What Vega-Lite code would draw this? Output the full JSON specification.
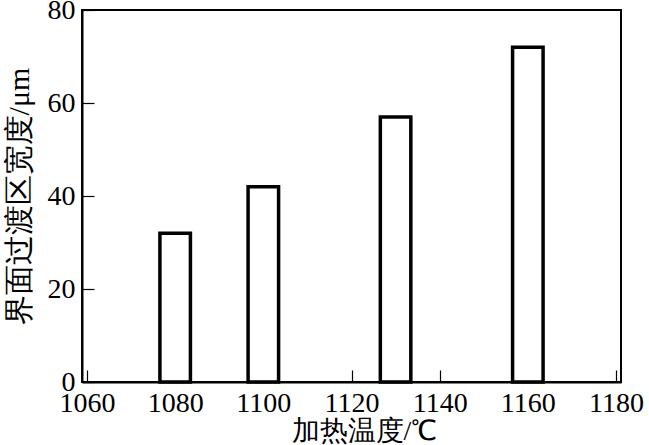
{
  "$schema": "https://vega.github.io/schema/vega-lite/v6.json",
  "autosize": "none",
  "width": 539,
  "height": 372,
  "padding": {"left": 82, "top": 10, "right": 28, "bottom": 63},
  "background": "white",
  "data": {"values": [
    {"temp": 1080, "width": 32},
    {"temp": 1100, "width": 42},
    {"temp": 1130, "width": 57},
    {"temp": 1160, "width": 72}
  ]},
  "mark": {"type": "bar", "size": 30.5, "fill": "white", "stroke": "black", "strokeWidth": 3.5},
  "encoding": {
    "x": {"field": "temp", "type": "quantitative",
      "scale": {"domain": [1060, 1180], "nice": false, "zero": false},
      "axis": {"values": [1060, 1080, 1100, 1120, 1140, 1160, 1180], "format": "d", "title": "加热温度/℃", "grid": false,
        "tickSize": -12, "tickColor": "black", "tickWidth": 1.2,
        "domainColor": "black", "domainWidth": 2,
        "labelFont": "Liberation Serif", "labelFontSize": 28, "labelColor": "black", "labelPadding": 19,
        "labelFlush": false,
        "titleFont": "Liberation Serif", "titleFontSize": 28, "titleFontWeight": "normal", "titleColor": "black", "titlePadding": 0, "titleX": 282}},
    "y": {"field": "width", "type": "quantitative",
      "scale": {"domain": [0, 80], "nice": false},
      "axis": {"values": [0, 20, 40, 60, 80], "format": "d", "title": "界面过渡区宽度/μm", "grid": false,
        "tickSize": -12, "tickColor": "black", "tickWidth": 1.2,
        "domainColor": "black", "domainWidth": 2,
        "labelFont": "Liberation Serif", "labelFontSize": 28, "labelColor": "black", "labelPadding": 19,
        "labelFlush": false,
        "titleFont": "Liberation Serif", "titleFontSize": 30, "titleFontWeight": "normal", "titleColor": "black", "titlePadding": 13}}
  },
  "config": {"view": {"stroke": "black", "strokeWidth": 2}, "font": "Liberation Serif"}
}
